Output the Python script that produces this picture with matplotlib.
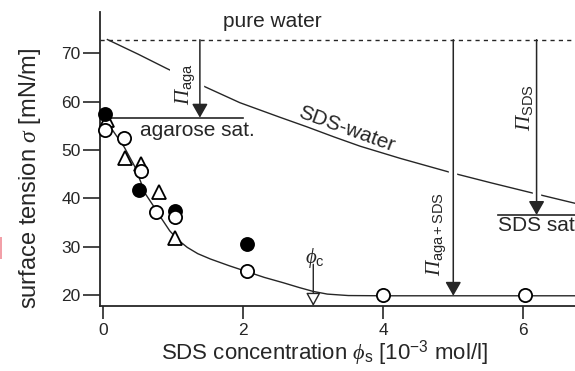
import matplotlib
matplotlib.use("Agg")
import matplotlib.pyplot as plt
from matplotlib.patches import Rectangle

plt.rcParams["font.family"] = ["Liberation Sans", "DejaVu Sans"]
# Greek symbols in serif italic, plain math text in sans
plt.rcParams["mathtext.fontset"] = "custom"
plt.rcParams["mathtext.rm"] = "Liberation Serif:italic"
plt.rcParams["mathtext.it"] = "Liberation Serif:italic"
plt.rcParams["mathtext.sf"] = "Liberation Sans"
plt.rcParams["mathtext.bf"] = "Liberation Sans:bold"

INK = "#262626"

# Surface tension (mN/m) against SDS concentration (1e-3 mol/l)
open_circle_x = [0.02, 0.29, 0.54, 0.76, 1.02, 2.06, 4.0, 6.03]
open_circle_y = [54.2, 52.6, 45.7, 37.2, 36.2, 25.1, 20.0, 20.1]
filled_circle_x = [0.02, 0.51, 1.02, 2.05]
filled_circle_y = [57.4, 41.8, 37.5, 30.5]
triangle_x = [0.05, 0.31, 0.54, 0.79, 1.02]
triangle_y = [56.3, 48.3, 47.2, 41.3, 31.8]

# Guide curve through the measurements
fit_x = [0.0, 0.1, 0.3, 0.45, 0.6, 0.71, 0.83, 0.95, 1.08, 1.2, 1.35, 1.53,
         1.8, 2.05, 2.3, 2.57, 2.8, 3.0, 3.2, 3.5, 4.0, 6.8]
fit_y = [57.3, 54.8, 50.6, 46.6, 41.0, 38.6, 35.9, 33.3, 31.3, 29.9, 28.6, 27.5,
         26.1, 24.9, 23.7, 22.6, 21.6, 20.8, 20.25, 19.95, 19.9, 19.9]

# SDS in pure water
sds_water_x = [0.05, 0.5, 0.9, 1.45, 1.95, 2.52, 2.91, 3.3, 3.67, 4.24, 4.98,
               5.55, 6.14, 6.8]
sds_water_y = [72.9, 69.8, 66.9, 63.1, 59.8, 56.8, 54.8, 52.7, 50.8, 48.3, 45.3,
               43.2, 41.1, 38.8]

pure_water = 72.8
agarose_sat = 56.7
sds_sat = 36.6
plateau = 19.9
phi_c = 3.0
pi_aga_x = 1.38
pi_mix_x = 5.0
pi_sds_x = 6.19

x_ticks = [0, 2, 4, 6]
y_ticks = [20, 30, 40, 50, 60, 70]

W, H = 575, 371
fig = plt.figure(figsize=(W / 100, H / 100), dpi=100)
ax = fig.add_axes([100 / W, 65 / H, 475 / W, 294 / H])
ax.set_xlim(-0.047, 6.739)
ax.set_ylim(17.79, 78.53)

for s in ("top", "right"):
    ax.spines[s].set_visible(False)
for s in ("left", "bottom"):
    ax.spines[s].set_color(INK)
    ax.spines[s].set_linewidth(1.3)

ax.set_xticks(x_ticks)
ax.set_yticks(y_ticks)
ax.tick_params(axis="y", length=12.5, width=1.2, pad=1.5, labelsize=12.5,
               colors=INK)
ax.tick_params(axis="x", length=9, width=1.2, pad=3.5, labelsize=12.5,
               colors=INK)

# SDS-water reference curve (broken where lines cross it)
ax.plot(sds_water_x, sds_water_y, color=INK, lw=1.0, zorder=1.5,
        solid_capstyle="butt")

arrows = ((pi_aga_x, agarose_sat), (pi_mix_x, plateau), (pi_sds_x, sds_sat))

# white strips under the vertical pressure arrows
for xv, yb in arrows:
    ax.plot([xv, xv], [pure_water, yb], color="white", lw=6, zorder=2,
            solid_capstyle="butt")

# pressure arrows
for xv, yb in arrows:
    ax.annotate("", xy=(xv, yb), xytext=(xv, pure_water),
                arrowprops=dict(arrowstyle="-|>,head_length=0.42,head_width=0.24",
                                mutation_scale=20, color=INK, lw=1.1,
                                shrinkA=0, shrinkB=0),
                zorder=3)

# guide curve
ax.plot(fit_x, fit_y, color=INK, lw=1.0, zorder=3.5)

# reference levels
ax.axhline(pure_water, color=INK, lw=1.0, dashes=(3, 3), zorder=4)
ax.plot([0.0, 2.0], [agarose_sat, agarose_sat], color=INK, lw=1.2, zorder=4)
ax.plot([5.64, 6.8], [sds_sat, sds_sat], color=INK, lw=1.2, zorder=4,
        clip_on=False)

# phi_c marker
ax.annotate("", xy=(phi_c, 17.79), xytext=(phi_c, 26.4),
            arrowprops=dict(arrowstyle="-|>,head_length=0.4,head_width=0.22",
                            mutation_scale=20, fc="white", ec=INK, lw=1.0,
                            shrinkA=0, shrinkB=0),
            zorder=4)

# data points
ax.plot(triangle_x, triangle_y, ls="none", marker="^", ms=10.5, mfc="white",
        mec="black", mew=1.3, zorder=6, clip_on=False)
ax.plot(filled_circle_x, filled_circle_y, ls="none", marker="o", ms=9.5,
        mfc="black", mec="black", mew=1.2, zorder=7, clip_on=False)
ax.plot(open_circle_x, open_circle_y, ls="none", marker="o", ms=9.5,
        mfc="white", mec="black", mew=1.3, zorder=8, clip_on=False)

# annotations
ax.text(2.42, 75.4, "pure water", fontsize=15, color=INK, ha="center",
        va="baseline")
ax.text(1.34, 52.9, "agarose sat.", fontsize=15, color=INK, ha="center",
        va="baseline", zorder=9)
ax.text(5.64, 33.3, "SDS sat.", fontsize=15, color=INK, ha="left",
        va="baseline")
ax.text(3.48, 54.4, "SDS-water", fontsize=15, color=INK, ha="center",
        va="center", rotation=-20)
ax.text(1.18, 63.7, r"$\Pi_\mathsf{aga}$", fontsize=15, color=INK,
        ha="center", va="center", rotation=90, zorder=2.5,
        bbox=dict(fc="white", ec="none", pad=3))
ax.text(4.76, 32.6, r"$\Pi_\mathsf{aga+SDS}$", fontsize=15, color=INK,
        ha="center", va="center", rotation=90)
ax.text(6.02, 58.8, r"$\Pi_\mathsf{SDS}$", fontsize=15, color=INK,
        ha="center", va="center", rotation=90)
ax.text(3.02, 27.7, r"$\phi_\mathsf{c}$", fontsize=15, color=INK,
        ha="center", va="center")

# axis titles
fig.text(30 / W, 1 - 178.5 / H, r"surface tension $\sigma$ [mN/m]",
         fontsize=17, color=INK, rotation=90, ha="center", va="center")
fig.text(324.5 / W, 11 / H,
         r"SDS concentration $\phi_\mathsf{s}$ [10$^\mathsf{-3}$ mol/l]",
         fontsize=16, color=INK, ha="center", va="baseline")

fig.add_artist(Rectangle((0, 1 - 259 / H), 1.5 / W, 22 / H,
                         transform=fig.transFigure, color="#f2a0a8", lw=0))

fig.savefig("out.png", dpi=100)
